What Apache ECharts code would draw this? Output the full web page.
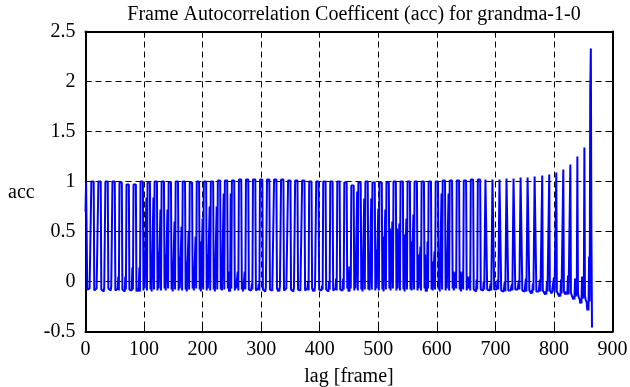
<!DOCTYPE html>
<html>
<head>
<meta charset="utf-8">
<script src="https://cdn.jsdelivr.net/npm/echarts@6/dist/echarts.min.js"></script>
<style>
html,body{margin:0;padding:0;background:#fff;}
#chart{width:630px;height:387px;}
</style>
</head>
<body>
<div id="chart"></div>
<script>
// ---- data (one entry per 12-frame period, lag = 12*k) ----
const titleText = 'Frame Autocorrelation Coefficent (acc) for grandma-1-0';
const xTicks = [0, 100, 200, 300, 400, 500, 600, 700, 800, 900];
const yTicks = [-0.5, 0, 0.5, 1, 1.5, 2, 2.5];

// value at the period lag
const peakAcc = [
0.70,1.00,1.00,1.00,1.00,0.99,0.97,0.97,
1.00,0.99,1.00,1.00,0.99,1.00,1.00,0.99,
1.00,1.00,1.00,1.01,1.01,1.01,1.02,1.02,1.02,
1.02,1.02,1.02,1.02,1.01,1.01,1.01,1.00,1.00,
1.00,1.00,1.00,0.99,0.96,0.99,1.00,0.99,
0.99,0.99,1.00,1.00,1.00,1.00,1.00,1.00,
1.00,1.01,1.01,1.01,1.01,1.02,1.02,
1.02,1.02,1.02,1.03,1.03,1.04,1.04,1.05,
1.06,1.07,1.09,1.12,1.17,1.25,1.34];
// value one lag either side of the period lag
const nearAcc = [
1.00,1.00,1.00,1.00,1.00,0.99,0.97,0.97,
1.00,0.99,1.00,1.00,0.99,1.00,1.00,0.99,
1.00,1.00,1.00,1.01,1.01,1.01,1.02,1.02,1.02,
1.02,1.02,1.02,1.02,1.01,1.01,1.01,1.00,1.00,
1.00,1.00,1.00,0.99,0.96,0.99,1.00,0.99,
0.99,0.99,1.00,1.00,1.00,1.00,1.00,1.00,
1.00,1.01,1.01,1.01,1.01,1.02,1.02,
1.02,1.02,1.02,1.03,1.03,1.04,1.04,1.05,
-0.09,-0.09,-0.10,-0.10,-0.11,-0.12,-0.14];
// value two lags either side of the period lag
const wideAcc = [
1.00,1.00,1.00,1.00,1.00,0.99,0.97,0.97,
1.00,0.99,1.00,1.00,0.99,1.00,1.00,0.99,
1.00,1.00,1.00,1.01,1.01,1.01,1.02,1.02,1.02,
1.02,1.02,1.02,1.02,1.01,1.01,1.01,1.00,1.00,
1.00,1.00,1.00,0.99,0.96,0.99,1.00,0.99,
0.99,0.99,1.00,1.00,1.00,1.00,1.00,1.00,
1.00,1.01,1.01,1.01,1.01,1.02,1.02,
-0.08,-0.08,-0.09,-0.09,-0.08,-0.09,-0.09,-0.10,
-0.10,-0.10,-0.11,-0.12,-0.13,-0.15,-0.18];
// lower secondary spike in the gap
const shortAcc = [
-0.08,-0.09,-0.08,-0.09,-0.07,-0.08,-0.09,-0.08,
0.29,0.25,0.30,0.27,0.20,0.25,0.20,0.15,
0.40,0.27,0.23,0.13,0.10,0.00,-0.02,-0.08,-0.09,
-0.08,-0.09,-0.07,-0.08,-0.09,-0.08,-0.07,-0.09,-0.08,
-0.09,-0.08,-0.07,0.15,0.15,0.18,0.27,0.32,
0.45,0.53,0.53,0.47,0.40,0.27,0.27,0.20,
0.23,0.21,0.10,0.10,0.05,-0.08,-0.09,
-0.08,-0.09,-0.08,-0.10,-0.09,-0.10,-0.09,-0.11,
-0.10,-0.12,-0.11,-0.13,-0.16,-0.18,-0.21];
// taller secondary spike in the gap
const tallAcc = [
-0.08,-0.07,-0.06,-0.05,0.05,0.05,0.14,0.14,
0.84,0.84,0.72,0.72,0.60,0.55,0.50,0.45,
0.63,0.75,0.75,0.88,0.88,0.10,0.10,-0.02,-0.02,
-0.06,-0.07,-0.05,-0.07,-0.06,-0.07,0.00,-0.05,-0.04,
0.00,0.03,0.03,0.15,0.90,0.83,0.83,0.73,
0.72,0.60,0.58,0.63,0.67,0.35,0.40,0.30,
0.88,0.88,0.10,0.10,0.05,0.02,0.00,
-0.02,0.02,0.00,-0.03,0.01,0.03,-0.02,0.02,
0.00,0.04,0.02,0.06,0.03,0.05,0.25];
// floor values in the gap
const floorA = [
-0.08,-0.09,-0.08,-0.07,-0.09,-0.08,-0.08,-0.10,
-0.09,-0.08,-0.09,-0.07,-0.08,-0.09,-0.08,-0.07,
-0.08,-0.09,-0.08,-0.08,-0.07,-0.09,-0.08,-0.08,-0.09,
-0.08,-0.08,-0.07,-0.09,-0.08,-0.08,-0.09,-0.07,-0.08,
-0.08,-0.09,-0.08,-0.07,-0.09,-0.08,-0.08,-0.09,
-0.08,-0.07,-0.09,-0.08,-0.08,-0.09,-0.07,-0.08,
-0.08,-0.09,-0.07,-0.08,-0.09,-0.08,-0.08,
-0.09,-0.08,-0.10,-0.09,-0.08,-0.10,-0.09,-0.10,
-0.10,-0.11,-0.12,-0.13,-0.15,-0.17,-0.20];
const floorB = [
-0.07,-0.07,-0.10,-0.09,-0.07,-0.10,-0.09,-0.07,
-0.07,-0.10,-0.07,-0.09,-0.10,-0.07,-0.10,-0.09,
-0.10,-0.07,-0.10,-0.09,-0.10,-0.07,-0.10,-0.09,-0.07,
-0.10,-0.09,-0.10,-0.07,-0.10,-0.09,-0.07,-0.10,-0.09,
-0.10,-0.07,-0.09,-0.10,-0.07,-0.10,-0.09,-0.07,
-0.10,-0.09,-0.07,-0.10,-0.09,-0.07,-0.10,-0.09,
-0.10,-0.07,-0.09,-0.10,-0.07,-0.10,-0.09,
-0.07,-0.10,-0.08,-0.11,-0.07,-0.09,-0.12,-0.08,
-0.13,-0.09,-0.15,-0.10,-0.18,-0.22,-0.29];
// final lags
const tailLag = [862, 863, 864, 865];
const tailAcc = [1.92, 2.33, 0.47, -0.46];

// ---- build the series ----
const PERIOD = 12;
const seriesData = [];
for (let k = 0; k < peakAcc.length; k++) {
  const c = PERIOD * k;
  const pts = [
    [c - 2, wideAcc[k]], [c - 1, nearAcc[k]], [c, peakAcc[k]], [c + 1, nearAcc[k]], [c + 2, wideAcc[k]],
    [c + 3, floorA[k]], [c + 4, shortAcc[k]], [c + 5, floorB[k]], [c + 6, floorA[k]],
    [c + 7, floorB[k]], [c + 8, tallAcc[k]], [c + 9, floorA[k]]
  ];
  pts.forEach(p => { if (p[0] >= 0) seriesData.push(p); });
}
tailLag.forEach((l, i) => seriesData.push([l, tailAcc[i]]));

const FONT = 'Liberation Serif';
const FS = 20;
const chart = echarts.init(document.getElementById('chart'), null, {renderer: 'canvas'});
const axisCommon = {
  type: 'value',
  axisLine: {show: true, onZero: false, lineStyle: {color: '#000', width: 2}},
  axisTick: {show: true, inside: true, length: 6, lineStyle: {color: '#000', width: 1}},
  axisLabel: {color: '#000', fontFamily: FONT, fontSize: FS},
};
chart.setOption({
  animation: false,
  backgroundColor: '#fff',
  title: {
    text: titleText, left: 349, top: 0, textAlign: 'center',
    textStyle: {fontFamily: FONT, fontSize: FS, fontWeight: 'normal', color: '#000'}
  },
  grid: {left: 85.5, right: 17.5, top: 31.5, bottom: 55.5, containLabel: false, outerBoundsMode: 'none'},
  xAxis: [
    Object.assign({}, axisCommon, {
      position: 'bottom', min: xTicks[0], max: xTicks[xTicks.length - 1], interval: 100,
      axisLabel: Object.assign({}, axisCommon.axisLabel, {margin: 8}),
      splitLine: {show: true, lineStyle: {color: '#000', type: [6, 4], width: 1}},
      name: 'lag [frame]', nameLocation: 'middle', nameGap: 35,
      nameTextStyle: {fontFamily: FONT, fontSize: FS, color: '#000'}
    }),
    Object.assign({}, axisCommon, {
      position: 'top', min: xTicks[0], max: xTicks[xTicks.length - 1], interval: 100,
      axisLabel: {show: false}, splitLine: {show: false}
    })
  ],
  yAxis: [
    Object.assign({}, axisCommon, {
      position: 'left', min: yTicks[0], max: yTicks[yTicks.length - 1], interval: 0.5,
      axisLabel: Object.assign({}, axisCommon.axisLabel, {margin: 10}),
      splitLine: {show: true, lineStyle: {color: '#000', type: [6, 4], width: 1}}
    }),
    Object.assign({}, axisCommon, {
      position: 'right', min: yTicks[0], max: yTicks[yTicks.length - 1], interval: 0.5,
      axisLabel: {show: false}, splitLine: {show: false}
    })
  ],
  graphic: [{
    type: 'text', left: 8, top: 183,
    style: {text: 'acc', fontFamily: FONT, fontSize: FS, fill: '#000'}
  }],
  series: [{
    type: 'line', xAxisIndex: 0, yAxisIndex: 0,
    data: seriesData, showSymbol: false, symbol: 'none',
    lineStyle: {color: '#0000ff', width: 2}, z: 1
  }]
});
</script>
</body>
</html>
